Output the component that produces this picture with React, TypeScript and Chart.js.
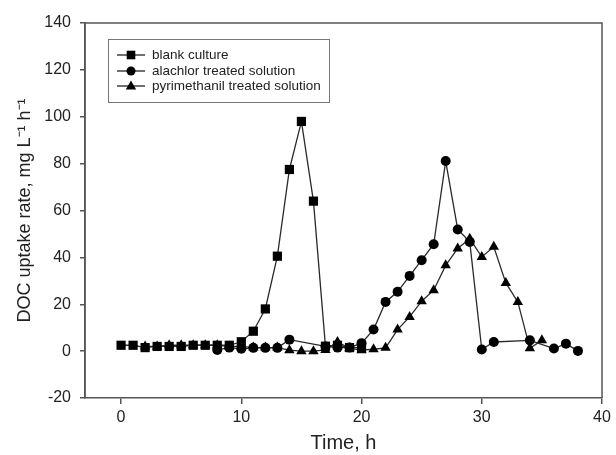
import React, { useEffect, useRef } from "react";
import { Chart, registerables } from "chart.js";

Chart.register(...registerables);

const blankX = [0, 1, 2, 3, 4, 5, 6, 7, 8, 9, 10, 11, 12, 13, 14, 15, 16, 17, 18, 19, 20];
const blankY = [2.5, 2.5, 1.5, 2, 2, 2, 2.5, 2.5, 2.5, 2.5, 4, 8.5, 18, 40.5, 77.5, 98, 64, 2.1, 2.5, 1.5, 1.5];

const alachlorX = [8, 9, 10, 11, 12, 13, 14, 17, 18, 19, 20, 21, 22, 23, 24, 25, 26, 27, 28, 29, 30, 31, 34, 36, 37, 38];
const alachlorY = [0.5, 1.5, 1, 1.4, 1.4, 1.4, 4.9, 2, 1.5, 1.5, 3.4, 9.2, 21, 25.3, 32.1, 38.8, 45.6, 81.1, 51.9, 46.6, 0.7, 3.9, 4.6, 1.1, 3.2, 0.1];

const pyrimethanilX = [2, 3, 4, 5, 6, 7, 8, 9, 10, 11, 12, 13, 14, 15, 16, 17, 18, 19, 20, 21, 22, 23, 24, 25, 26, 27, 28, 29, 30, 31, 32, 33, 34, 35];
const pyrimethanilY = [2, 2, 2.5, 2.5, 2.5, 2.5, 2.5, 2, 2, 1.5, 1.5, 1.5, 0.4, 0, 0, 0.5, 3.9, 1.2, 0.4, 0.8, 1.4, 9.2, 14.6, 21.3, 26, 36.6, 43.8, 48, 40.2, 44.5, 29.1, 21, 1.2, 4.6];

const seriesNames = ["blank culture", "alachlor treated solution", "pyrimethanil treated solution"];
const xTicks = [0, 10, 20, 30, 40];
const yTicks = [-20, 0, 20, 40, 60, 80, 100, 120, 140];

const FONT = "'Liberation Sans', Arial, sans-serif";

const toPts = (xs: number[], ys: number[]) => xs.map((x, i) => ({ x, y: ys[i] }));

const frameAndLegend = {
  id: "frameAndLegend",
  afterDraw(chart: any) {
    const { ctx, chartArea } = chart;
    ctx.save();
    ctx.strokeStyle = "#555";
    ctx.lineWidth = 1.5;
    ctx.beginPath();
    ctx.moveTo(chartArea.left, chartArea.bottom);
    ctx.lineTo(chartArea.left, chartArea.top);
    ctx.lineTo(chartArea.right, chartArea.top);
    ctx.lineTo(chartArea.right, chartArea.bottom);
    ctx.stroke();

    // legend box
    const bx = 108.5, by = 39.5, bw = 221, bh = 63;
    ctx.fillStyle = "#fff";
    ctx.fillRect(bx, by, bw, bh);
    ctx.strokeStyle = "#777";
    ctx.lineWidth = 1;
    ctx.strokeRect(bx, by, bw, bh);
    const rows = [55, 71, 86];
    chart.data.datasets.forEach((ds: any, i: number) => {
      const y = rows[i];
      ctx.strokeStyle = "#222";
      ctx.lineWidth = 1.3;
      ctx.beginPath();
      ctx.moveTo(117, y);
      ctx.lineTo(145, y);
      ctx.stroke();
      ctx.fillStyle = "#000";
      ctx.beginPath();
      const st = ds.pointStyle;
      if (st === "rect") {
        ctx.fillRect(131 - 4.3, y - 4.3, 8.6, 8.6);
      } else if (st === "circle") {
        ctx.arc(131, y, 4.5, 0, Math.PI * 2);
        ctx.fill();
      } else {
        ctx.moveTo(131, y - 5.5);
        ctx.lineTo(131 + 5.2, y + 3.5);
        ctx.lineTo(131 - 5.2, y + 3.5);
        ctx.closePath();
        ctx.fill();
      }
      ctx.fillStyle = "#222";
      ctx.font = `13.5px ${FONT}`;
      ctx.textBaseline = "middle";
      ctx.textAlign = "left";
      ctx.fillText(ds.label, 152, y + 0.5);
    });
    ctx.restore();
  },
};

export default function App() {
  const ref = useRef<HTMLCanvasElement>(null);
  useEffect(() => {
    if (!ref.current) return;
    const common = {
      showLine: true,
      borderColor: "#2a2a2a",
      borderWidth: 1.3,
      pointBackgroundColor: "#000",
      pointBorderColor: "#000",
      pointBorderWidth: 0,
    };
    const chart = new Chart(ref.current, {
      type: "scatter",
      data: {
        datasets: [
          { ...common, label: seriesNames[0], data: toPts(blankX, blankY), pointStyle: "rect", pointRadius: 6.5 },
          { ...common, label: seriesNames[1], data: toPts(alachlorX, alachlorY), pointStyle: "circle", pointRadius: 5 },
          { ...common, label: seriesNames[2], data: toPts(pyrimethanilX, pyrimethanilY), pointStyle: "triangle", pointRadius: 6 },
        ],
      },
      options: {
        animation: false,
        responsive: true,
        maintainAspectRatio: false,
        layout: { padding: { left: 0, right: 14, top: 23, bottom: 0 } },
        plugins: { legend: { display: false }, tooltip: { enabled: false } },
        scales: {
          x: {
            type: "linear",
            min: -3,
            max: 40,
            afterBuildTicks: (s: any) => { s.ticks = xTicks.map((v) => ({ value: v })); },
            afterFit: (s: any) => { s.height = 57; },
            grid: { drawOnChartArea: false, drawTicks: true, tickLength: 6, color: "#555", lineWidth: 1.5 },
            border: { color: "#555", width: 1.5 },
            ticks: { color: "#222", font: { family: FONT, size: 16 }, padding: 4, maxRotation: 0 },
            title: { display: true, text: "Time, h", color: "#222", font: { family: FONT, size: 20 }, padding: { top: 0, bottom: 0 } },
          },
          y: {
            type: "linear",
            min: -20,
            max: 140,
            afterBuildTicks: (s: any) => { s.ticks = yTicks.map((v) => ({ value: v })); },
            afterFit: (s: any) => { s.width = 85; },
            grid: { drawOnChartArea: false, drawTicks: true, tickLength: 5, color: "#555", lineWidth: 1.5 },
            border: { color: "#555", width: 1.5 },
            ticks: { color: "#222", font: { family: FONT, size: 16 }, padding: 9 },
            title: { display: true, text: "DOC uptake rate, mg L⁻¹ h⁻¹", color: "#222", font: { family: FONT, size: 18 }, padding: { top: 14, bottom: 0 } },
          },
        },
      },
      plugins: [frameAndLegend],
    } as any);
    return () => chart.destroy();
  }, []);
  return (
    <div style={{ position: "fixed", left: 0, top: 0, width: 616, height: 455, background: "#fff" }}>
      <canvas ref={ref} />
    </div>
  );
}
